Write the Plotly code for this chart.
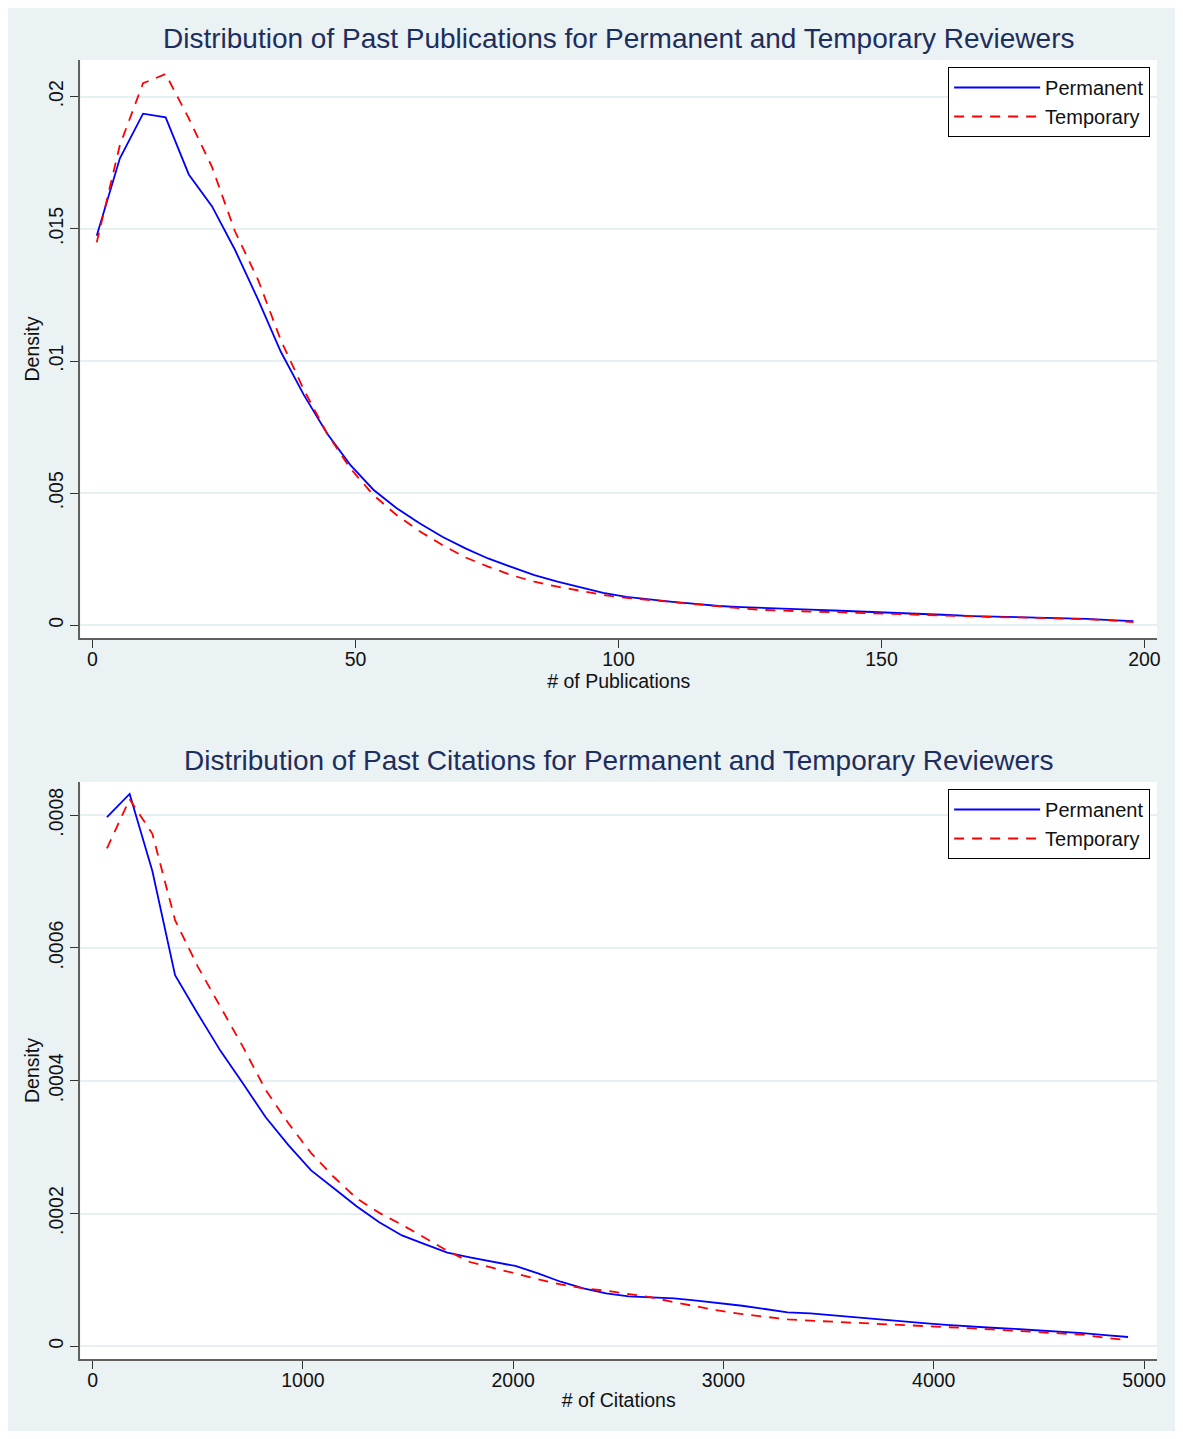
import plotly.graph_objects as go

# ---------------- data ----------------
pub_x = [0.8, 5.2, 9.6, 13.9, 18.3, 22.7, 27.1, 31.5, 35.8, 40.2, 44.6, 49.0, 53.4, 57.7,
         62.1, 66.5, 70.9, 75.2, 79.6, 84.0, 88.4, 92.8, 97.1, 101.5, 105.9, 110.3, 114.7,
         119.0, 123.4, 127.8, 132.2, 136.5, 140.9, 145.3, 149.7, 154.1, 158.4, 162.8,
         167.2, 171.6, 176.0, 180.3, 184.7, 189.1, 193.5, 197.9]
pub_perm = [0.01474, 0.01767, 0.01936, 0.01922, 0.01706, 0.01586, 0.01420, 0.01231,
            0.01035, 0.00871, 0.00726, 0.00607, 0.00513, 0.00445, 0.00387, 0.00335,
            0.00291, 0.00253, 0.00221, 0.00190, 0.00165, 0.00144, 0.00123, 0.00108,
            0.00098, 0.00089, 0.00081, 0.00073, 0.00069, 0.00065, 0.00062, 0.00059,
            0.00056, 0.00053, 0.00049, 0.00046, 0.00043, 0.00039, 0.00035, 0.00033,
            0.00030, 0.00028, 0.00026, 0.00024, 0.00020, 0.00016]
pub_temp = [0.01449, 0.01817, 0.02051, 0.02086, 0.01918, 0.01735, 0.01490, 0.01306,
            0.01079, 0.00890, 0.00726, 0.00594, 0.00493, 0.00419, 0.00357, 0.00304,
            0.00257, 0.00222, 0.00190, 0.00165, 0.00146, 0.00131, 0.00115, 0.00104,
            0.00096, 0.00088, 0.00079, 0.00070, 0.00064, 0.00058, 0.00054, 0.00052,
            0.00050, 0.00047, 0.00045, 0.00042, 0.00039, 0.00037, 0.00034, 0.00031,
            0.00030, 0.00028, 0.00026, 0.00023, 0.00019, 0.00012]

cit_x = [68, 176, 284, 392, 500, 608, 715, 823, 931, 1039, 1147, 1255, 1363, 1471, 1579,
         1687, 1794, 1902, 2010, 2118, 2226, 2334, 2442, 2550, 2658, 2766, 2873, 2981,
         3089, 3197, 3305, 3413, 3521, 3629, 3737, 3845, 3952, 4060, 4168, 4276, 4384,
         4492, 4600, 4708, 4816, 4924]
cit_perm = [0.000797, 0.000832, 0.000716, 0.000559, 0.000501, 0.000445, 0.000396,
            0.000345, 0.000303, 0.000265, 0.000238, 0.000211, 0.000187, 0.000167,
            0.000154, 0.000141, 0.000134, 0.000128, 0.000121, 0.000110, 0.0000973,
            0.0000873, 0.0000798, 0.0000753, 0.0000738, 0.0000723, 0.0000687,
            0.0000652, 0.0000611, 0.0000562, 0.0000512, 0.0000495, 0.0000464,
            0.0000431, 0.0000401, 0.0000375, 0.0000349, 0.0000324, 0.0000298,
            0.0000280, 0.0000262, 0.0000244, 0.0000224, 0.0000200, 0.0000170, 0.0000140]
cit_temp = [0.000750, 0.000824, 0.000772, 0.000642, 0.000572, 0.000511, 0.000451,
            0.000386, 0.000336, 0.000291, 0.000255, 0.000223, 0.000201, 0.000183,
            0.000163, 0.000144, 0.000127, 0.000118, 0.000110, 0.000101, 0.0000933,
            0.0000873, 0.0000837, 0.0000783, 0.0000738, 0.0000663, 0.0000596,
            0.0000536, 0.0000486, 0.0000446, 0.0000405, 0.0000387, 0.0000372,
            0.0000357, 0.0000342, 0.0000325, 0.0000307, 0.0000291, 0.0000273,
            0.0000254, 0.0000235, 0.0000215, 0.0000196, 0.0000175, 0.0000129, 0.0000090]

series_names = ["Permanent", "Temporary"]
titles = ["Distribution of Past Publications for Permanent and Temporary Reviewers",
          "Distribution of Past Citations for Permanent and Temporary Reviewers"]
x_titles = ["# of Publications", "# of Citations"]
y_title = "Density"

pub_xticks = [0, 50, 100, 150, 200]
pub_yticks = [0, 0.005, 0.01, 0.015, 0.02]
pub_yticklabels = ["0", ".005", ".01", ".015", ".02"]
cit_xticks = [0, 1000, 2000, 3000, 4000, 5000]
cit_yticks = [0, 0.0002, 0.0004, 0.0006, 0.0008]
cit_yticklabels = ["0", ".0002", ".0004", ".0006", ".0008"]

# ---------------- styling ----------------
# page has an 8px body margin on every side; keep the figure inside the window
OFF = 8
W, H = 1183 - 2 * OFF, 1439 - 2 * OFF
FONT = "Liberation Sans, Arial, Helvetica, sans-serif"
BG = "#EAF2F3"
TITLE_COLOR = "#1E2E5C"
BLUE = "#0000FF"
RED = "#FF0000"
TXT = "#111111"

def px_x(p):
    return (p - OFF) / W

def px_y(p):
    return 1 - (p - OFF) / H

fig = go.Figure()

fig.add_trace(go.Scatter(x=pub_x, y=pub_perm, mode="lines", name=series_names[0],
                         line=dict(color=BLUE, width=1.8), xaxis="x", yaxis="y",
                         legend="legend"))
fig.add_trace(go.Scatter(x=pub_x, y=pub_temp, mode="lines", name=series_names[1],
                         line=dict(color=RED, width=1.8, dash="10px,8px"), xaxis="x", yaxis="y",
                         legend="legend"))
fig.add_trace(go.Scatter(x=cit_x, y=cit_perm, mode="lines", name=series_names[0],
                         line=dict(color=BLUE, width=1.8), xaxis="x2", yaxis="y2",
                         legend="legend2"))
fig.add_trace(go.Scatter(x=cit_x, y=cit_temp, mode="lines", name=series_names[1],
                         line=dict(color=RED, width=1.8, dash="10px,8px"), xaxis="x2", yaxis="y2",
                         legend="legend2"))

x_dom = [px_x(81), px_x(1166)]
y1_dom = [px_y(638), px_y(60)]
y2_dom = [px_y(1359), px_y(782)]

axis_common = dict(showline=True, linecolor="#606060", linewidth=2, ticks="outside",
                   ticklen=8, tickwidth=1, tickcolor="#333333", zeroline=False,
                   tickfont=dict(family=FONT, size=19.5, color=TXT))

xaxis_common = dict(axis_common, showgrid=False, ticklabelstandoff=-5,
                    title=dict(font=dict(family=FONT, size=19.5, color=TXT), standoff=3))
yaxis_common = dict(axis_common, showgrid=True, gridcolor="#E6EFF1", gridwidth=1.5,
                    tickangle=-90, ticklabelstandoff=0,
                    title=dict(text=y_title, font=dict(family=FONT, size=19.5, color=TXT),
                               standoff=0))

legend_common = dict(xanchor="right", yanchor="top", bgcolor="white", bordercolor="black",
                     borderwidth=1, font=dict(family=FONT, size=20, color=TXT),
                     itemwidth=86, tracegroupgap=0)

fig.update_layout(
    width=W, height=H,
    margin=dict(l=0, r=0, t=0, b=0),
    paper_bgcolor=BG,
    plot_bgcolor="white",
    font=dict(family=FONT),
    showlegend=True,
    xaxis=dict(xaxis_common, domain=x_dom, anchor="y", range=[-2.3, 202.4],
               tickvals=pub_xticks, ticktext=[str(v) for v in pub_xticks],
               title=dict(xaxis_common["title"], text=x_titles[0])),
    yaxis=dict(yaxis_common, domain=y1_dom, anchor="x", range=[-0.00048, 0.02139],
               tickvals=pub_yticks, ticktext=pub_yticklabels),
    xaxis2=dict(xaxis_common, domain=x_dom, anchor="y2", range=[-58, 5062],
                tickvals=cit_xticks, ticktext=[str(v) for v in cit_xticks],
                title=dict(xaxis_common["title"], text=x_titles[1])),
    yaxis2=dict(yaxis_common, domain=y2_dom, anchor="x2", range=[-0.0000191, 0.000850],
                tickvals=cit_yticks, ticktext=cit_yticklabels),
    legend=dict(legend_common, x=px_x(1159), y=px_y(67)),
    legend2=dict(legend_common, x=px_x(1159), y=px_y(789)),
    annotations=[
        dict(text=titles[0], xref="paper", yref="paper", x=px_x(623.5), y=px_y(38),
             xanchor="center", yanchor="middle", showarrow=False,
             font=dict(family=FONT, size=28, color=TITLE_COLOR)),
        dict(text=titles[1], xref="paper", yref="paper", x=px_x(623.5), y=px_y(760),
             xanchor="center", yanchor="middle", showarrow=False,
             font=dict(family=FONT, size=28, color=TITLE_COLOR)),
    ],
)

fig.write_html("out.html")
